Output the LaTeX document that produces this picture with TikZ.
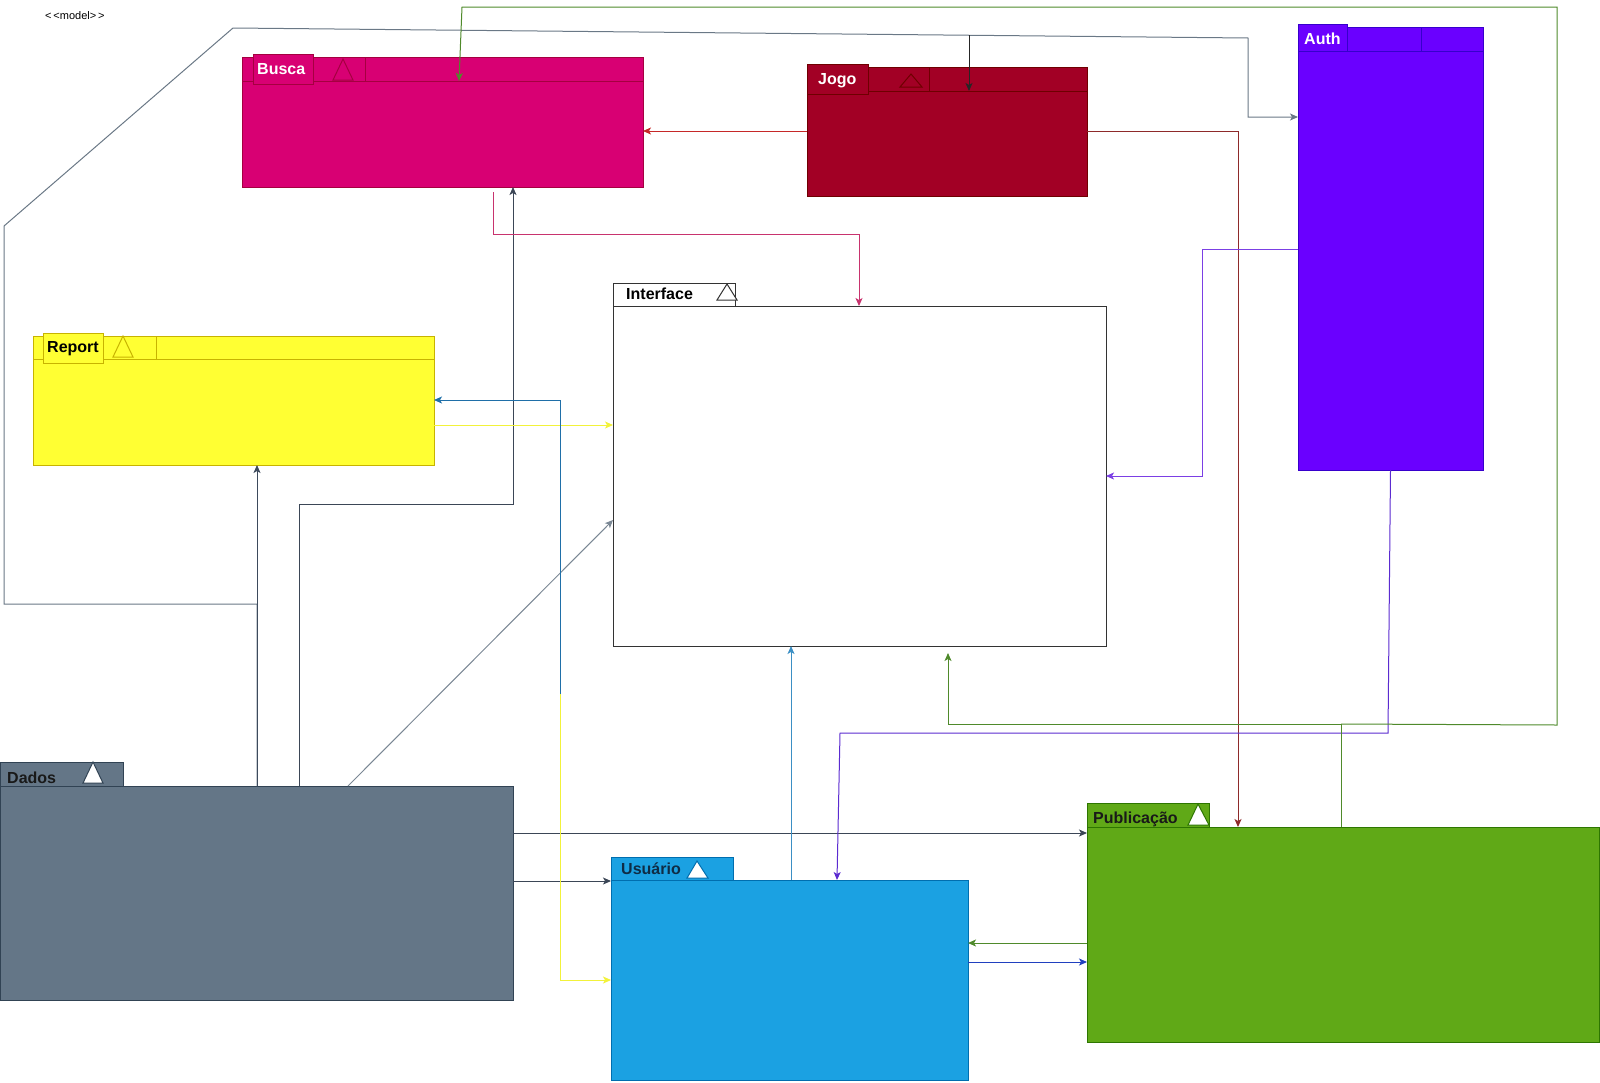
\documentclass[tikz,border=0pt]{standalone}
\usepackage{fontspec}
\setmainfont{Liberation Sans}
\usetikzlibrary{arrows.meta}

% package fills and strokes
\definecolor{buscaF}{HTML}{D80073}\definecolor{buscaD}{HTML}{A50040}
\definecolor{jogoF}{HTML}{A20025}\definecolor{jogoD}{HTML}{6F0000}
\definecolor{authF}{HTML}{6A00FF}\definecolor{authD}{HTML}{3700CC}
\definecolor{reportF}{HTML}{FFFF33}\definecolor{reportD}{HTML}{C7B300}
\definecolor{dadosF}{HTML}{647687}\definecolor{dadosD}{HTML}{314354}
\definecolor{usuF}{HTML}{1BA1E2}\definecolor{usuD}{HTML}{006EAF}
\definecolor{pubF}{HTML}{60A917}\definecolor{pubD}{HTML}{2D7600}
\definecolor{ifaceD}{HTML}{333333}
% connector colours
\definecolor{slateA}{HTML}{3D4A5C}
\definecolor{slateB}{HTML}{6A7886}
\definecolor{slateC}{HTML}{3B4656}
\definecolor{grayD}{HTML}{7A8794}
\definecolor{redA}{HTML}{C62828}
\definecolor{redB}{HTML}{8E2A2A}
\definecolor{pinkA}{HTML}{C8336E}
\definecolor{purpA}{HTML}{7B3FE4}
\definecolor{purpB}{HTML}{5B2BD0}
\definecolor{greenA}{HTML}{4F8A2B}
\definecolor{yellowA}{HTML}{F2F23A}
\definecolor{blueA}{HTML}{1F6FA8}
\definecolor{blueB}{HTML}{3B8FC4}
\definecolor{blueC}{HTML}{2040BF}
\definecolor{usuText}{HTML}{0F2C45}

\begin{document}
\begin{tikzpicture}[x=1pt,y=-1pt,
  box/.style={inner sep=0pt, outer sep=0pt, anchor=north west, line width=1pt},
  lbl/.style={anchor=west, inner sep=0pt, font=\bfseries\fontsize{16}{19}\selectfont},
  conn/.style={line width=1pt, -{Stealth[length=8pt,width=7pt,inset=2pt]}},
  plain/.style={line width=1pt},
]
\useasboundingbox (0,0) rectangle (1600,1082);

\node[anchor=west, inner sep=0pt, font=\fontsize{11}{13}\selectfont] (stereo) at (45,16) {<\,<model>\,>};

% ---------- Busca
\node[box, fill=buscaF, draw=buscaD, minimum width=401pt, minimum height=24pt] (buscahead) at (242,57) {};
\node[box, fill=buscaF, draw=buscaD, minimum width=401pt, minimum height=106pt] (busca) at (242,81) {};
\node[box, fill=buscaF, draw=buscaD, minimum width=60pt, minimum height=30pt] (buscatab) at (253,54) {};
\node[lbl, text=white] (buscalbl) at (257,69.5) {Busca};
\draw[buscaD, plain] (365,57) -- (365,81);
\draw[buscaD, plain] (333,80) -- (343,59) -- (353,80) -- cycle;

% ---------- Jogo
\node[box, fill=jogoF, draw=jogoD, minimum width=280pt, minimum height=24pt] (jogohead) at (807,67) {};
\node[box, fill=jogoF, draw=jogoD, minimum width=280pt, minimum height=105pt] (jogo) at (807,91) {};
\node[box, fill=jogoF, draw=jogoD, minimum width=61pt, minimum height=30pt] (jogotab) at (807,64) {};
\node[lbl, text=white] (jogolbl) at (818,80.5) {Jogo};
\draw[jogoD, plain] (929,67) -- (929,91);
\draw[jogoD, plain] (900,87) -- (911,74) -- (922,87) -- cycle;

% ---------- Auth
\node[box, fill=authF, draw=authD, minimum width=185pt, minimum height=24pt] (authhead) at (1298,27) {};
\node[box, fill=authF, draw=authD, minimum width=185pt, minimum height=419pt] (auth) at (1298,51) {};
\node[box, fill=authF, draw=authD, minimum width=49pt, minimum height=27pt] (authtab) at (1298,24) {};
\node[lbl, text=white] (authlbl) at (1304,38.5) {Auth};
\draw[authD, plain] (1421,27) -- (1421,51);

% ---------- Report
\node[box, fill=reportF, draw=reportD, minimum width=401pt, minimum height=23pt] (reporthead) at (33,336) {};
\node[box, fill=reportF, draw=reportD, minimum width=401pt, minimum height=106pt] (report) at (33,359) {};
\node[box, fill=reportF, draw=reportD, minimum width=60pt, minimum height=30pt] (reporttab) at (43,333) {};
\node[lbl, text=black] (reportlbl) at (47,349) {Report};
\draw[reportD, plain] (156,336) -- (156,359);
\draw[reportD, plain] (113,357) -- (123,336) -- (133,357) -- cycle;

% ---------- Interface
\node[box, fill=white, draw=ifaceD, minimum width=122pt, minimum height=23pt] (interfacetab) at (613,283) {};
\node[box, fill=white, draw=ifaceD, minimum width=493pt, minimum height=340pt] (interface) at (613,306) {};
\node[lbl, text=black] (interfacelbl) at (626,294) {Interface};
\draw[ifaceD, plain, fill=white] (717,300) -- (727,284) -- (737,300) -- cycle;

% ---------- Dados
\node[box, fill=dadosF, draw=dadosD, minimum width=123pt, minimum height=24pt] (dadostab) at (0,762) {};
\node[box, fill=dadosF, draw=dadosD, minimum width=513pt, minimum height=214pt] (dados) at (0,786) {};
\node[lbl, text=black!90] (dadoslbl) at (7,778) {Dados};
\draw[dadosD, plain, fill=white] (83,783) -- (93,762) -- (103,783) -- cycle;

% ---------- Usuário
\node[box, fill=usuF, draw=usuD, minimum width=122pt, minimum height=23pt] (usuariotab) at (611,857) {};
\node[box, fill=usuF, draw=usuD, minimum width=357pt, minimum height=200pt] (usuario) at (611,880) {};
\node[lbl, text=usuText] (usuariolbl) at (621,869) {Usuário};
\draw[usuD, plain, fill=white] (687,878) -- (697,861) -- (708,878) -- cycle;

% ---------- Publicação
\node[box, fill=pubF, draw=pubD, minimum width=122pt, minimum height=24pt] (publicacaotab) at (1087,803) {};
\node[box, fill=pubF, draw=pubD, minimum width=512pt, minimum height=215pt] (publicacao) at (1087,827) {};
\node[lbl, text=black!90] (publicacaolbl) at (1093,819.5) {Publicação};
\draw[pubD, plain, fill=white] (1188,825) -- (1198,804) -- (1209,825) -- cycle;

% ---------- connectors
\coordinate (jogotap) at (969,35);
\coordinate (bluetap) at (560,694);
\coordinate (greenfork) at (1341,724);

% Dados
\draw[conn, slateB] (dados.north -| 257,0) -- (257,604) -- (4,604) -- (4,226) -- (233,28) -- (1248,38) -- (1248,117) -- (auth.west |- 0,117);
\draw[conn, black!85] (jogotap) -- (jogo.north -| 969,0);
\draw[conn, slateA] (dados.north -| 257,0) -- (report.south -| 257,0);
\draw[conn, slateC] (dados.north -| 299,0) -- (299,504) -- (513,504) -- (busca.south -| 513,0);
\draw[conn, grayD] (dados.north -| 348,0) -- (interface.west |- 0,520);
\draw[conn, slateC] (dados.east |- 0,881) -- (usuario.west |- 0,881);
\draw[conn, slateC] (dados.east |- 0,833) -- (publicacao.west |- 0,833);

% Jogo
\draw[conn, redA] (jogo.west |- 0,131) -- (busca.east |- 0,131);
\draw[conn, redB] (jogo.east |- 0,131) -- (1238,131) -- (publicacao.north -| 1238,0);

% Busca
\draw[conn, pinkA, shorten <=5pt] (busca.south -| 493,0) -- (493,234) -- (859,234) -- (interface.north -| 859,0);

% Auth
\draw[conn, purpA] (auth.west |- 0,249) -- (1202,249) -- (1202,476) -- (interface.east |- 0,476);
\draw[conn, purpB] (auth.south) -- (1388,733) -- (840,733) -- (usuario.north -| 837,0);

% Publicação
\draw[conn, greenA, shorten >=7pt] (publicacao.north -| 1341,0) -- (greenfork) -- (948,724) -- (interface.south -| 948,0);
\draw[conn, greenA] (greenfork) -- (1557,725) -- (1557,7) -- (462,7) -- (busca.north -| 459,0);
\draw[conn, greenA] (publicacao.west |- 0,943) -- (usuario.east |- 0,943);

% Report
\draw[conn, yellowA] (report.east |- 0,425) -- (interface.west |- 0,425);
\draw[conn, yellowA] (report.east |- 0,425) -- (560,425) -- (560,980) -- (usuario.west |- 0,980);

% Usuário
\draw[conn, blueA] (bluetap) -- (560,400) -- (report.east |- 0,400);
\draw[conn, blueB] (usuario.north -| 791,0) -- (interface.south -| 791,0);
\draw[conn, blueC] (usuario.east |- 0,962) -- (publicacao.west |- 0,962);
\end{tikzpicture}
\end{document}
